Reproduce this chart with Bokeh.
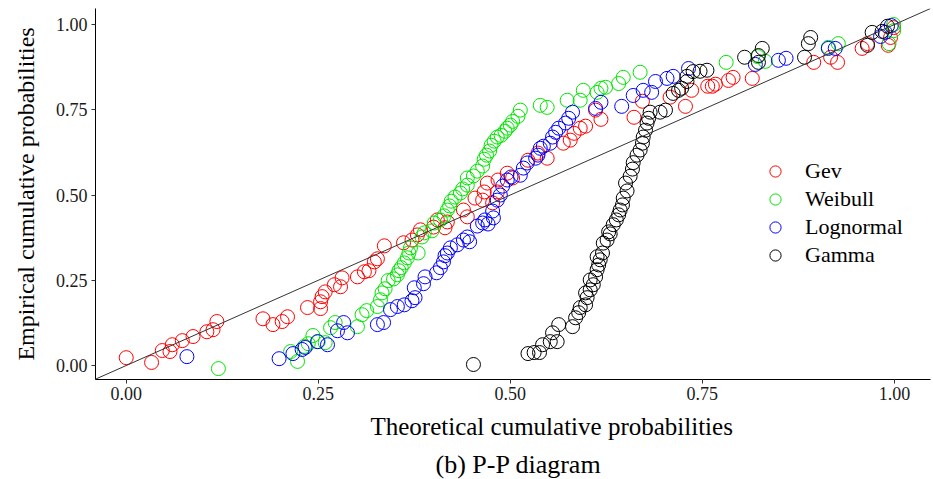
from bokeh.plotting import figure
from bokeh.models import Range1d, Slope, Title, FixedTicker, NumeralTickFormatter
from bokeh.embed import file_html
from bokeh.resources import INLINE

FONT = "Liberation Serif"

gev_x = [0.000, 0.033, 0.047, 0.057, 0.060, 0.073, 0.087, 0.105, 0.113, 0.118,
         0.178, 0.191, 0.203, 0.210, 0.236, 0.253, 0.253, 0.255, 0.259, 0.271,
         0.279, 0.281, 0.301, 0.310, 0.316, 0.323, 0.327, 0.336, 0.361, 0.372,
         0.379, 0.383, 0.400, 0.405, 0.415, 0.418, 0.439, 0.444, 0.454, 0.464,
         0.466, 0.470, 0.477, 0.484, 0.483, 0.496, 0.503, 0.523, 0.536, 0.548,
         0.569, 0.578, 0.583, 0.591, 0.598, 0.611, 0.618, 0.661, 0.672, 0.708,
         0.728, 0.736, 0.757, 0.763, 0.767, 0.784, 0.790, 0.815, 0.895, 0.917,
         0.926, 0.958, 0.965, 0.992, 0.995, 0.999]
gev_y = [0.023, 0.009, 0.044, 0.041, 0.061, 0.073, 0.085, 0.099, 0.105, 0.129,
         0.137, 0.120, 0.129, 0.143, 0.170, 0.167, 0.187, 0.202, 0.216, 0.237,
         0.231, 0.257, 0.260, 0.275, 0.278, 0.304, 0.313, 0.351, 0.360, 0.368,
         0.383, 0.398, 0.406, 0.427, 0.404, 0.421, 0.456, 0.436, 0.491, 0.485,
         0.509, 0.535, 0.477, 0.544, 0.509, 0.564, 0.550, 0.602, 0.623, 0.608,
         0.652, 0.661, 0.681, 0.696, 0.702, 0.749, 0.722, 0.728, 0.775, 0.787,
         0.760, 0.807, 0.819, 0.819, 0.825, 0.836, 0.845, 0.842, 0.889, 0.904,
         0.889, 0.930, 0.944, 0.939, 0.962, 0.991]

weibull_x = [0.120, 0.214, 0.223, 0.232, 0.237, 0.243, 0.250, 0.259, 0.266, 0.272,
             0.301, 0.307, 0.313, 0.327, 0.331, 0.333, 0.337, 0.341, 0.348, 0.353,
             0.355, 0.358, 0.362, 0.366, 0.368, 0.370, 0.380, 0.385, 0.388, 0.398,
             0.401, 0.409, 0.414, 0.418, 0.421, 0.423, 0.428, 0.435, 0.438, 0.444,
             0.444, 0.452, 0.457, 0.464, 0.466, 0.469, 0.473, 0.475, 0.479, 0.483,
             0.488, 0.493, 0.496, 0.500, 0.503, 0.510, 0.513, 0.539, 0.548, 0.574,
             0.591, 0.595, 0.613, 0.618, 0.624, 0.641, 0.647, 0.669, 0.781, 0.822,
             0.832, 0.914, 0.927, 0.993, 0.999, 0.999]
weibull_y = [-0.009, 0.041, 0.012, 0.056, 0.064, 0.088, 0.070, 0.067, 0.111, 0.126,
             0.114, 0.149, 0.161, 0.173, 0.193, 0.213, 0.225, 0.249, 0.254, 0.266,
             0.278, 0.287, 0.301, 0.316, 0.330, 0.345, 0.330, 0.377, 0.389, 0.395,
             0.418, 0.427, 0.439, 0.456, 0.468, 0.482, 0.494, 0.506, 0.518, 0.529,
             0.550, 0.556, 0.570, 0.585, 0.605, 0.617, 0.629, 0.646, 0.658, 0.670,
             0.675, 0.687, 0.696, 0.705, 0.716, 0.731, 0.749, 0.763, 0.757, 0.778,
             0.778, 0.807, 0.801, 0.813, 0.816, 0.827, 0.845, 0.860, 0.889, 0.906,
             0.892, 0.933, 0.944, 0.944, 0.982, 1.000]

lognormal_x = [0.079, 0.199, 0.217, 0.229, 0.233, 0.249, 0.262, 0.275, 0.283, 0.288,
               0.327, 0.335, 0.344, 0.353, 0.362, 0.372, 0.376, 0.375, 0.387, 0.389,
               0.404, 0.409, 0.413, 0.415, 0.418, 0.422, 0.431, 0.439, 0.444, 0.447,
               0.457, 0.464, 0.467, 0.471, 0.478, 0.477, 0.483, 0.487, 0.490, 0.496,
               0.501, 0.513, 0.517, 0.522, 0.533, 0.536, 0.539, 0.543, 0.552, 0.555,
               0.559, 0.563, 0.572, 0.576, 0.581, 0.611, 0.618, 0.645, 0.660, 0.673,
               0.684, 0.689, 0.704, 0.712, 0.732, 0.819, 0.849, 0.859, 0.914, 0.923,
               0.982, 0.988, 0.996]
lognormal_y = [0.026, 0.020, 0.035, 0.047, 0.053, 0.070, 0.061, 0.102, 0.126, 0.096,
               0.120, 0.126, 0.164, 0.173, 0.178, 0.190, 0.199, 0.228, 0.240, 0.260,
               0.272, 0.287, 0.304, 0.322, 0.330, 0.345, 0.354, 0.368, 0.377, 0.363,
               0.409, 0.418, 0.427, 0.415, 0.433, 0.453, 0.485, 0.500, 0.526, 0.544,
               0.553, 0.558, 0.579, 0.594, 0.608, 0.617, 0.637, 0.643, 0.652, 0.670,
               0.684, 0.696, 0.711, 0.725, 0.743, 0.754, 0.772, 0.760, 0.792, 0.807,
               0.801, 0.833, 0.842, 0.848, 0.871, 0.883, 0.895, 0.901, 0.930, 0.930,
               0.965, 0.977, 0.997]

gamma_x = [0.452, 0.523, 0.531, 0.538, 0.542, 0.552, 0.561, 0.555, 0.563, 0.581,
           0.585, 0.589, 0.591, 0.598, 0.600, 0.598, 0.604, 0.608, 0.604, 0.611,
           0.613, 0.615, 0.617, 0.613, 0.620, 0.621, 0.626, 0.630, 0.628, 0.634,
           0.638, 0.641, 0.643, 0.646, 0.647, 0.652, 0.650, 0.656, 0.659, 0.660,
           0.665, 0.669, 0.672, 0.673, 0.676, 0.678, 0.680, 0.682, 0.695, 0.702,
           0.712, 0.719, 0.723, 0.730, 0.730, 0.738, 0.747, 0.756, 0.805, 0.823,
           0.823, 0.828, 0.883, 0.888, 0.891, 0.965, 0.971, 0.984, 0.991]
gamma_y = [0.003, 0.035, 0.038, 0.038, 0.061, 0.070, 0.070, 0.096, 0.120, 0.114,
           0.140, 0.155, 0.170, 0.178, 0.199, 0.213, 0.222, 0.237, 0.251, 0.260,
           0.281, 0.295, 0.310, 0.319, 0.330, 0.359, 0.368, 0.386, 0.392, 0.413,
           0.427, 0.442, 0.456, 0.471, 0.491, 0.512, 0.535, 0.555, 0.576, 0.595,
           0.617, 0.632, 0.652, 0.670, 0.690, 0.711, 0.725, 0.743, 0.743, 0.749,
           0.798, 0.807, 0.813, 0.833, 0.848, 0.862, 0.863, 0.866, 0.904, 0.909,
           0.889, 0.930, 0.904, 0.944, 0.962, 0.939, 0.977, 0.980, 0.995]

series = [
    ("Gev", gev_x, gev_y, "#FF0000"),
    ("Weibull", weibull_x, weibull_y, "#00E600"),
    ("Lognormal", lognormal_x, lognormal_y, "#0000FF"),
    ("Gamma", gamma_x, gamma_y, "#000000"),
]

tick_values = [0.0, 0.25, 0.5, 0.75, 1.0]

p = figure(width=933, height=479, output_backend="svg", toolbar_location=None,
           x_range=Range1d(-0.04, 1.047), y_range=Range1d(-0.041, 1.047),
           min_border_left=95, min_border_right=3, min_border_top=8, min_border_bottom=99)
p.grid.visible = False
p.outline_line_color = None
p.background_fill_color = "white"
p.border_fill_color = "white"

p.add_layout(Slope(gradient=1, y_intercept=0, line_color="#333333", line_width=1))

for name, xs, ys, col in series:
    p.scatter(xs, ys, marker="circle", size=14, fill_color=None, line_color=col,
              line_width=1, legend_label=name)

for ax in (p.xaxis[0], p.yaxis[0]):
    ax.ticker = FixedTicker(ticks=tick_values)
    ax.formatter = NumeralTickFormatter(format="0.00")
    ax.axis_line_color = "black"
    ax.axis_line_width = 1
    ax.major_tick_line_color = "#333333"
    ax.major_tick_out = 4
    ax.major_tick_in = 0
    ax.minor_tick_out = 0
    ax.minor_tick_in = 0
    ax.major_label_text_font = FONT
    ax.major_label_text_font_size = "18px"
    ax.major_label_text_color = "#1a1a1a"

p.xaxis.major_label_standoff = 3
p.yaxis.major_label_standoff = 4
p.yaxis.axis_label = "Empirical cumulative probabilities"
p.yaxis.axis_label_text_font = FONT
p.yaxis.axis_label_text_font_size = "24px"
p.yaxis.axis_label_text_font_style = "normal"
p.yaxis.axis_label_text_color = "black"
p.yaxis.axis_label_standoff = 14

p.add_layout(Title(text="Theoretical cumulative probabilities", align="left", offset=275,
                   text_font=FONT, text_font_size="25px", text_font_style="normal",
                   text_color="black", standoff=16), "below")
p.add_layout(Title(text="(b) P-P diagram", align="left", offset=340,
                   text_font=FONT, text_font_size="26px", text_font_style="normal",
                   text_color="black", standoff=1), "below")

lg = p.legend[0]
lg.location = (666, 110)
lg.orientation = "vertical"
lg.border_line_color = None
lg.background_fill_alpha = 0
lg.padding = 0
lg.margin = 0
lg.glyph_width = 28
lg.glyph_height = 28
lg.label_height = 28
lg.spacing = 0
lg.label_standoff = 16
lg.label_text_font = FONT
lg.label_text_font_size = "22px"
lg.label_text_color = "black"
lg.label_text_baseline = "middle"

open("out.html", "w").write(file_html(p, INLINE))
